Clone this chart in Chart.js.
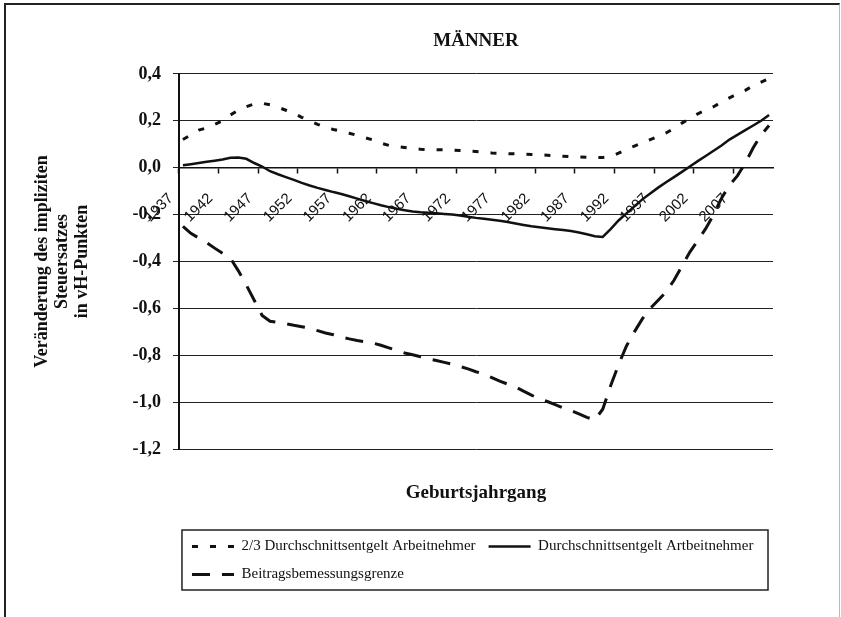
<!DOCTYPE html>
<html>
<head>
<meta charset="utf-8">
<script src="https://cdn.jsdelivr.net/npm/chart.js@4/dist/chart.umd.min.js"></script>
<style>
  body { margin: 0; background: #fff; }
  #wrap { position: relative; width: 841px; height: 617px; overflow: hidden; }
  #frame { position: absolute; left: 4px; top: 3px; right: 1px; bottom: -4px;
           border-left: 2px solid #222; border-top: 2px solid #222; border-right: 1px solid #bbb; }
  canvas { position: absolute; left: 0; top: 0; }
</style>
</head>
<body>
<div id="wrap">
  <div id="frame"></div>
  <canvas id="chart" width="841" height="617"></canvas>
</div>
<script>
// Geburtsjahrgaenge 1937 - 2011
const years = [
  '1937','1938','1939','1940','1941','1942','1943','1944','1945','1946',
  '1947','1948','1949','1950','1951','1952','1953','1954','1955','1956',
  '1957','1958','1959','1960','1961','1962','1963','1964','1965','1966',
  '1967','1968','1969','1970','1971','1972','1973','1974','1975','1976',
  '1977','1978','1979','1980','1981','1982','1983','1984','1985','1986',
  '1987','1988','1989','1990','1991','1992','1993','1994','1995','1996',
  '1997','1998','1999','2000','2001','2002','2003','2004','2005','2006',
  '2007','2008','2009','2010','2011'
];

// 2/3 Durchschnittsentgelt
const zweiDrittel = [
  0.12, 0.14, 0.16, 0.17, 0.185, 0.20, 0.225, 0.245, 0.26, 0.272,
  0.275, 0.268, 0.258, 0.245, 0.232, 0.215, 0.20, 0.185, 0.172, 0.163,
  0.155, 0.147, 0.138, 0.128, 0.118, 0.105, 0.095, 0.09, 0.086, 0.082,
  0.079, 0.077, 0.077, 0.076, 0.075, 0.073, 0.071, 0.069, 0.066, 0.063,
  0.061, 0.060, 0.059, 0.058, 0.056, 0.055, 0.053, 0.051, 0.049, 0.047,
  0.046, 0.044, 0.043, 0.044, 0.048, 0.062, 0.078, 0.092, 0.106, 0.12,
  0.133, 0.148, 0.168, 0.19, 0.21, 0.23, 0.245, 0.26, 0.28, 0.298,
  0.315, 0.33, 0.35, 0.365, 0.38
];

// Durchschnittsentgelt
const durchschnitt = [
  0.01, 0.015, 0.02, 0.025, 0.03, 0.035, 0.042, 0.043, 0.038, 0.02,
  0.005, -0.015, -0.028, -0.04, -0.052, -0.065, -0.076, -0.086, -0.095, -0.104,
  -0.112, -0.122, -0.132, -0.142, -0.151, -0.16, -0.168, -0.175, -0.181, -0.187,
  -0.19, -0.192, -0.194, -0.197, -0.2, -0.204, -0.209, -0.214, -0.218, -0.222,
  -0.226, -0.232, -0.238, -0.244, -0.25, -0.254, -0.258, -0.262, -0.266, -0.27,
  -0.276, -0.284, -0.292, -0.295, -0.262, -0.225, -0.195, -0.165, -0.135, -0.11,
  -0.085, -0.062, -0.04, -0.018, 0.005, 0.028, 0.05, 0.072, 0.095, 0.12,
  0.14, 0.16, 0.18, 0.2, 0.225
];

// Beitragsbemessungsgrenze
const bbg = [
  -0.25, -0.28, -0.30, -0.32, -0.343, -0.365, -0.386, -0.44, -0.50, -0.565,
  -0.63, -0.655, -0.66, -0.665, -0.672, -0.678, -0.685, -0.695, -0.705, -0.712,
  -0.722, -0.73, -0.737, -0.742, -0.748, -0.757, -0.768, -0.78, -0.79, -0.798,
  -0.806, -0.815, -0.822, -0.83, -0.838, -0.848, -0.858, -0.87, -0.88, -0.895,
  -0.91, -0.923, -0.935, -0.953, -0.97, -0.985, -0.997, -1.01, -1.024, -1.036,
  -1.05, -1.065, -1.075, -1.03, -0.93, -0.84, -0.76, -0.7, -0.645, -0.6,
  -0.565, -0.53, -0.48, -0.42, -0.36, -0.31, -0.26, -0.2, -0.13, -0.075,
  -0.035, 0.02, 0.085, 0.14, 0.18
];

const yTitle = ['Veränderung des impliziten', 'Steuersatzes', 'in vH-Punkten'];

const serif = 'Liberation Serif, Times New Roman, serif';
const ink = '#111';

// Rahmen um die Legende
const legendFrame = {
  id: 'legendFrame',
  afterDraw(chart) {
    const lg = chart.legend;
    const c = chart.ctx;
    c.save();
    c.strokeStyle = '#222';
    c.lineWidth = 1.5;
    c.strokeRect(lg.left + 3, lg.top + 4, lg.width - 8, lg.height - 6);
    c.restore();
  }
};

let ctx = document.getElementById('chart').getContext('2d');

let chart = new Chart(ctx, {
  type: 'line',
  data: {
    labels: years,
    datasets: [{
      label: '2/3 Durchschnittsentgelt Arbeitnehmer',
      data: zweiDrittel,
      borderColor: ink,
      borderWidth: 3,
      borderDash: [6, 12],
      pointRadius: 0
    }, {
      label: 'Durchschnittsentgelt Artbeitnehmer',
      data: durchschnitt,
      borderColor: ink,
      borderWidth: 2.5,
      pointRadius: 0
    }, {
      label: 'Beitragsbemessungsgrenze',
      data: bbg,
      borderColor: ink,
      borderWidth: 3,
      borderDash: [18, 12],
      pointRadius: 0
    }]
  },
  plugins: [legendFrame],
  options: {
    responsive: false,
    animation: false,
    layout: { padding: { top: 20, left: 10, right: 68, bottom: 25 } },
    plugins: {
      tooltip: { enabled: false },
      title: {
        display: true,
        fullSize: false,
        text: 'MÄNNER',
        color: ink,
        font: { family: serif, size: 19, weight: 'bold', lineHeight: 1.1 },
        padding: { top: 11, bottom: 22 }
      },
      legend: {
        position: 'bottom',
        fullSize: false,
        align: 'start',
        labels: {
          usePointStyle: true,
          pointStyle: 'line',
          pointStyleWidth: 42,
          padding: 13,
          color: ink,
          font: { family: serif, size: 15 },
          // Strichart der Linien auch in der Legende
          generateLabels: (ch) => {
            const items = Chart.defaults.plugins.legend.labels.generateLabels(ch);
            items.forEach((it) => {
              const ds = ch.data.datasets[it.datasetIndex];
              it.lineDash = ds.borderDash || [];
              it.lineWidth = ds.borderWidth;
              it.strokeStyle = ds.borderColor;
            });
            return items;
          }
        }
      }
    },
    scales: {
      // nur fuer den Achsentitel unten
      x: {
        type: 'category',
        offset: true,
        ticks: { display: false },
        grid: { display: false, drawTicks: false },
        border: { display: false },
        title: {
          display: true,
          text: 'Geburtsjahrgang',
          color: ink,
          font: { family: serif, size: 19, weight: 'bold', lineHeight: 1.1 },
          padding: { top: 34, bottom: 22 }
        }
      },
      // Kategorienachse auf der Nulllinie
      x2: {
        type: 'category',
        position: { y: 0 },
        offset: true,
        grid: {
          offset: true,
          drawOnChartArea: false,
          tickLength: 5,
          tickWidth: 1.5,
          tickColor: (c) => (c.index % 5 === 0 ? ink : 'rgba(0,0,0,0)')
        },
        border: { color: ink, width: 1.5 },
        ticks: {
          autoSkip: false,
          minRotation: 45,
          maxRotation: 45,
          padding: 17,
          labelOffset: -12,
          color: ink,
          font: { family: 'Liberation Sans, Arial, sans-serif', size: 15 },
          callback: (v, i) => (i % 5 === 0 ? years[i] : '')
        }
      },
      y: {
        min: -1.2,
        max: 0.4,
        ticks: {
          stepSize: 0.2,
          padding: 12,
          color: ink,
          font: { family: serif, size: 18, weight: 'bold' },
          callback: (v) => (Math.abs(v) < 1e-9 ? '0,0' : v.toFixed(1).replace('.', ','))
        },
        grid: { color: '#222', lineWidth: 1, tickLength: 6, tickColor: '#222' },
        border: { color: ink, width: 2 },
        title: {
          display: true,
          text: yTitle,
          color: ink,
          font: { family: serif, size: 18, weight: 'bold', lineHeight: 1.12 },
          padding: { top: 22, bottom: 28 }
        }
      }
    }
  }
});
</script>
</body>
</html>
